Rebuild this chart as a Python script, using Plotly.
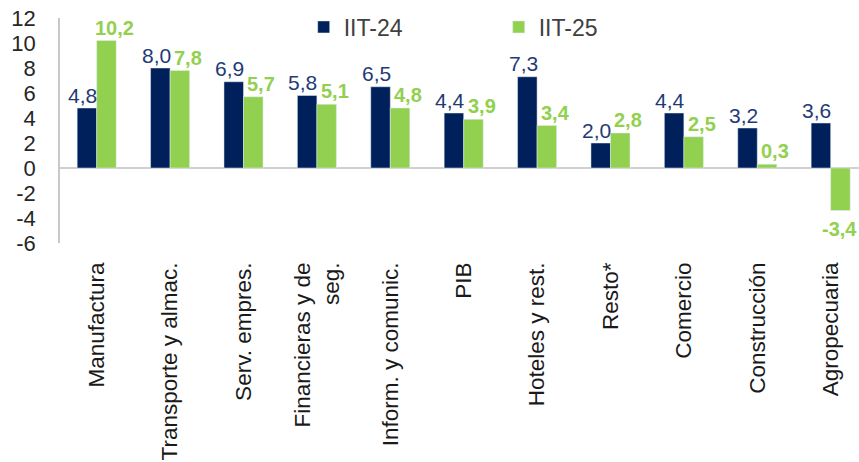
import plotly.graph_objects as go

# Sector growth rates (%) for the two quarters
categories = ["Manufactura", "Transporte y almac.", "Serv. empres.", "Financieras y de<br>seg.",
              "Inform. y comunic.", "PIB", "Hoteles y rest.", "Resto*", "Comercio",
              "Construcción", "Agropecuaria"]
iit24 = [4.8, 8.0, 6.9, 5.8, 6.5, 4.4, 7.3, 2.0, 4.4, 3.2, 3.6]
iit25 = [10.2, 7.8, 5.7, 5.1, 4.8, 3.9, 3.4, 2.8, 2.5, 0.3, -3.4]
y_ticks = [-6, -4, -2, 0, 2, 4, 6, 8, 10, 12]

NAVY = "#00205B"
NAVY_TXT = "#1F3B77"
GREEN = "#92D050"
FONT = "Liberation Sans, Arial, sans-serif"


def fmt(v):
    return f"{v:.1f}".replace(".", ",")


fig = go.Figure()
fig.add_trace(go.Bar(x=categories, y=iit24, name="IIT-24", marker_color=NAVY))
fig.add_trace(go.Bar(x=categories, y=iit25, name="IIT-25", marker_color=GREEN))

# Value labels drawn as annotations so they can sit slightly apart from each other
annotations = []
for cat, v in zip(categories, iit24):
    annotations.append(dict(x=cat, y=v, text=fmt(v), showarrow=False,
                            xshift=-14, yshift=13 if v >= 0 else -15,
                            font=dict(family=FONT, size=21, color=NAVY_TXT)))
for cat, v in zip(categories, iit25):
    annotations.append(dict(x=cat, y=v, text=f"<b>{fmt(v)}</b>", showarrow=False,
                            xshift=18 if v >= 0 else 9, yshift=13 if v >= 0 else -18,
                            font=dict(family=FONT, size=20, color=GREEN)))

fig.update_layout(
    width=859, height=462,
    margin=dict(l=60, r=0, t=18, b=219),
    paper_bgcolor="white", plot_bgcolor="white",
    barmode="group", bargap=0.468, bargroupgap=0,
    font=dict(family=FONT, color="#262626"),
    showlegend=True,
    legend=dict(orientation="h", x=0.305, y=0.96, xanchor="left", yanchor="middle",
                font=dict(family=FONT, size=23, color="#404040"),
                entrywidth=150, bgcolor="rgba(0,0,0,0)"),
    annotations=annotations,
    xaxis=dict(range=[-0.5, 10.386], tickangle=-90, showline=False, showgrid=False,
               ticks="", tickfont=dict(family=FONT, size=22.5, color="#1A1A1A"),
               ticklabelstandoff=14),
    yaxis=dict(range=[-6, 12], tickvals=y_ticks, ticktext=[str(t) for t in y_ticks],
               showgrid=False, zeroline=True, zerolinecolor="#D0D0D0", zerolinewidth=1.5,
               showline=True, linecolor="#C8C8C8", linewidth=1.5, ticks="",
               ticklabelstandoff=18,
               tickfont=dict(family=FONT, size=22, color="#262626")),
)

fig.write_html("out.html")
